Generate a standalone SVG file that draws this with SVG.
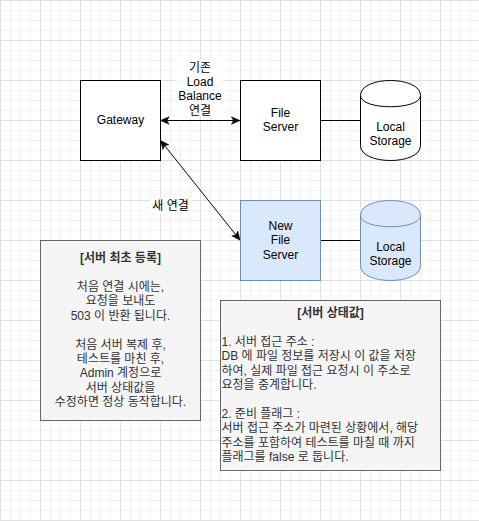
<svg xmlns="http://www.w3.org/2000/svg" width="479" height="521" viewBox="0 0 479 521">
  <style>
    text { font-family: "Liberation Sans", "Noto Sans CJK KR", sans-serif; font-size: 12px; fill: #000000; }
    .c { text-anchor: middle; }
    .box { fill: #ffffff; stroke: #000000; stroke-width: 1; }
    .blue { fill: #dae8fc; stroke: #6c8ebf; stroke-width: 1; }
    .note { fill: #f5f5f5; stroke: #666666; stroke-width: 1; }
    .nt { fill: #333333; }
    .b { font-weight: bold; }
    .edge { fill: none; stroke: #000000; stroke-width: 1; }
    .lbl { fill: #ffffff; stroke: none; }
  </style>
  <defs>
    <pattern id="grid" patternUnits="userSpaceOnUse" width="40" height="40">
      <rect width="40" height="40" fill="#ffffff"/>
      <path d="M10.5,0 V40 M20.5,0 V40 M30.5,0 V40 M0,10.5 H40 M0,20.5 H40 M0,30.5 H40" stroke="#f3f3f3" stroke-width="1" fill="none"/>
      <path d="M0.5,0 V40 M0,0.5 H40" stroke="#e0e0e0" stroke-width="1" fill="none"/>
    </pattern>
    <marker id="arrow" viewBox="0 0 10 10" refX="9.5" refY="5" markerWidth="9" markerHeight="9" markerUnits="userSpaceOnUse" orient="auto-start-reverse">
      <path d="M0.5,0.8 L10,5 L0.5,9.2 L2.8,5 Z" fill="#000000" stroke="#000000" stroke-width="0.6"/>
    </marker>
  </defs>
  <rect x="0" y="0" width="479" height="521" fill="url(#grid)"/>

  <g id="connectors">
    <path class="edge" d="M161,120.5 H239.5" marker-start="url(#arrow)" marker-end="url(#arrow)"/>
    <path class="edge" d="M160.8,140.8 L239.8,239.8" marker-start="url(#arrow)" marker-end="url(#arrow)"/>
    <path class="edge" d="M320.5,120.5 H360.5"/>
    <path class="edge" d="M320.5,240.5 H360.5"/>
    <g id="label-existing">
      <rect class="lbl" x="177" y="60" width="46" height="57"/>
      <text class="c" x="200" y="71.6">기존</text>
      <text class="c" x="200" y="86">Load</text>
      <text class="c" x="200" y="100.4">Balance</text>
      <text class="c" x="200" y="114.8">연결</text>
    </g>
    <g id="label-new">
      <rect class="lbl" x="150" y="198" width="41" height="15"/>
      <text class="c" x="170.5" y="210.2">새 연결</text>
    </g>
  </g>

  <g id="gateway">
    <rect class="box" x="80.5" y="80.5" width="80" height="80"/>
    <text class="c" x="120.5" y="124.2">Gateway</text>
  </g>

  <g id="file-server">
    <rect class="box" x="240.5" y="80.5" width="80" height="80"/>
    <text class="c" x="280.5" y="117">File</text>
    <text class="c" x="280.5" y="131.4">Server</text>
  </g>

  <g id="local-storage-1">
    <path class="box" d="M360.5,95.5 C360.5,75.5 420.5,75.5 420.5,95.5 L420.5,145.5 C420.5,165.5 360.5,165.5 360.5,145.5 Z"/>
    <path class="edge" d="M360.5,95.5 C360.5,110.5 420.5,110.5 420.5,95.5"/>
    <text class="c" x="390.5" y="131">Local</text>
    <text class="c" x="390.5" y="145.4">Storage</text>
  </g>

  <g id="new-file-server">
    <rect class="blue" x="240.5" y="200.5" width="80" height="80"/>
    <text class="c" x="280.5" y="229.8">New</text>
    <text class="c" x="280.5" y="244.2">File</text>
    <text class="c" x="280.5" y="258.6">Server</text>
  </g>

  <g id="local-storage-2">
    <path class="blue" d="M360.5,215.5 C360.5,195.5 420.5,195.5 420.5,215.5 L420.5,265.5 C420.5,285.5 360.5,285.5 360.5,265.5 Z"/>
    <path d="M360.5,215.5 C360.5,230.5 420.5,230.5 420.5,215.5" fill="none" stroke="#6c8ebf" stroke-width="1"/>
    <text class="c" x="390.5" y="251">Local</text>
    <text class="c" x="390.5" y="265.4">Storage</text>
  </g>

  <g id="note-first-registration">
    <rect class="note" x="40.5" y="240.5" width="160" height="180"/>
    <text class="c nt b" x="120.5" y="262.2">[서버 최초 등록]</text>
    <text class="c nt" x="120.5" y="291">처음 연결 시에는,</text>
    <text class="c nt" x="120.5" y="305.4">요청을 보내도</text>
    <text class="c nt" x="120.5" y="319.8">503 이 반환 됩니다.</text>
    <text class="c nt" x="120.5" y="348.6">처음 서버 복제 후,</text>
    <text class="c nt" x="120.5" y="363">테스트를 마친 후,</text>
    <text class="c nt" x="120.5" y="377.4">Admin 계정으로</text>
    <text class="c nt" x="120.5" y="391.8">서버 상태값을</text>
    <text class="c nt" x="120.5" y="406.2">수정하면 정상 동작합니다.</text>
  </g>

  <g id="note-server-status">
    <rect class="note" x="220.5" y="300.5" width="220" height="170"/>
    <text class="c nt b" x="330.5" y="317.2">[서버 상태값]</text>
    <text class="nt" x="221.5" y="346">1. 서버 접근 주소 :</text>
    <text class="nt" x="221.5" y="360.4">DB 에 파일 정보를 저장시 이 값을 저장</text>
    <text class="nt" x="221.5" y="374.8">하여, 실제 파일 접근 요청시 이 주소로</text>
    <text class="nt" x="221.5" y="389.2">요청을 중계합니다.</text>
    <text class="nt" x="221.5" y="418">2. 준비 플래그 :</text>
    <text class="nt" x="221.5" y="432.4">서버 접근 주소가 마련된 상황에서, 해당</text>
    <text class="nt" x="221.5" y="446.8">주소를 포함하여 테스트를 마칠 때 까지</text>
    <text class="nt" x="221.5" y="461.2">플래그를 false 로 둡니다.</text>
  </g>
</svg>
